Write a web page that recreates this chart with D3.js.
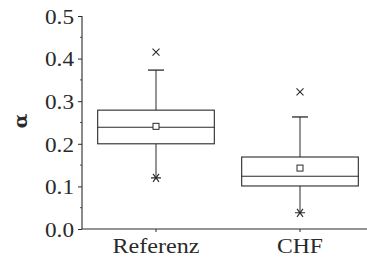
<!DOCTYPE html>
<html>
<head>
<meta charset="utf-8">
<script src="https://cdn.jsdelivr.net/npm/d3@7"></script>
<style>
  body { margin: 0; background: #fff; }
  svg { display: block; }
</style>
</head>
<body>
<svg id="chart" width="367" height="261"></svg>
<script>
// values
const groups = ["Referenz", "CHF"];
const q1 = [0.200, 0.101];
const medians = [0.239, 0.124];
const q3 = [0.279, 0.169];
const means = [0.241, 0.143];
const whiskerHigh = [0.373, 0.263];
const whiskerLow = [0.120, 0.038];
const outliers = [0.415, 0.322];
const yTicks = [0, 0.1, 0.2, 0.3, 0.4, 0.5];

const ink = "#2a2a2a";
const serif = "'Liberation Serif', 'DejaVu Serif', serif";
const svg = d3.select("#chart");

const y = d3.scaleLinear().domain([0, 0.5]).range([229, 16]);
const x = d3.scaleBand().domain(groups).range([84, 372]).padding(0);
const boxW = x.bandwidth() * 0.81;

// y axis
const yAxis = svg.append("g").attr("transform", "translate(82,0)")
    .call(d3.axisLeft(y).tickValues(yTicks).tickFormat(d3.format(".1f")).tickSize(4).tickPadding(4));
yAxis.select(".domain").attr("stroke", ink).attr("stroke-width", 1.1).attr("d", `M0,${y(0.5)}V${y(0)}`);
yAxis.selectAll(".tick line").attr("stroke", ink);
yAxis.selectAll(".tick text")
    .style("font-family", serif).style("font-size", "20px")
    .attr("fill", ink).attr("dy", "0.36em")
    .attr("textLength", 29).attr("lengthAdjust", "spacingAndGlyphs");

// minor ticks
svg.append("g").selectAll("line").data(d3.range(0.05, 0.5, 0.1)).join("line")
    .attr("x1", 80).attr("x2", 82)
    .attr("y1", d => y(d)).attr("y2", d => y(d))
    .attr("stroke", ink).attr("stroke-width", 0.8);

// x axis
svg.append("line").attr("x1", 82).attr("x2", 367).attr("y1", y(0)).attr("y2", y(0))
    .attr("stroke", ink).attr("stroke-width", 1.1);
svg.append("g").selectAll("line").data(groups).join("line")
    .attr("x1", d => x(d) + x.bandwidth() / 2).attr("x2", d => x(d) + x.bandwidth() / 2)
    .attr("y1", y(0)).attr("y2", y(0) + 3)
    .attr("stroke", ink);
svg.append("g").selectAll("text").data(groups).join("text")
    .attr("x", d => x(d) + x.bandwidth() / 2)
    .attr("y", 253)
    .attr("text-anchor", "middle")
    .style("font-family", serif).style("font-size", "21px")
    .attr("fill", ink)
    .attr("textLength", d => d == "Referenz" ? 87 : 46)
    .attr("lengthAdjust", "spacingAndGlyphs")
    .text(d => d);

// y label
svg.append("text")
    .attr("transform", "translate(27,121) rotate(-90)")
    .attr("text-anchor", "middle")
    .style("font-family", "'DejaVu Serif', serif").style("font-size", "19px")
    .attr("font-weight", "bold")
    .attr("fill", ink)
    .text("α");

// boxes
const boxes = svg.append("g").selectAll("g").data(groups).join("g")
    .attr("transform", d => `translate(${x(d) + x.bandwidth() / 2},0)`);

boxes.append("line")
    .attr("y1", (d, i) => y(q3[i])).attr("y2", (d, i) => y(whiskerHigh[i]))
    .attr("stroke", ink);
boxes.append("line")
    .attr("y1", (d, i) => y(q1[i])).attr("y2", (d, i) => y(whiskerLow[i]))
    .attr("stroke", ink);
boxes.append("line")
    .attr("x1", -8).attr("x2", 8)
    .attr("y1", (d, i) => y(whiskerHigh[i])).attr("y2", (d, i) => y(whiskerHigh[i]))
    .attr("stroke", ink).attr("stroke-width", 1.3);

boxes.append("rect")
    .attr("x", -boxW / 2).attr("width", boxW)
    .attr("y", (d, i) => y(q3[i]))
    .attr("height", (d, i) => y(q1[i]) - y(q3[i]))
    .attr("fill", "none").attr("stroke", ink).attr("stroke-width", 1.1);
boxes.append("line")
    .attr("x1", -boxW / 2).attr("x2", boxW / 2)
    .attr("y1", (d, i) => y(medians[i])).attr("y2", (d, i) => y(medians[i]))
    .attr("stroke", ink).attr("stroke-width", 1.1);
boxes.append("rect")
    .attr("x", -3).attr("width", 6).attr("height", 6)
    .attr("y", (d, i) => y(means[i]) - 3)
    .attr("fill", "#fff").attr("stroke", ink);

// outlier crosses
boxes.append("path")
    .attr("d", (d, i) => { const c = y(outliers[i]); return `M-3.5,${c - 3.5}L3.5,${c + 3.5}M-3.5,${c + 3.5}L3.5,${c - 3.5}`; })
    .attr("stroke", ink).attr("stroke-width", 1.1);

// asterisks at lower whisker end
boxes.append("path")
    .attr("d", (d, i) => { const c = y(whiskerLow[i]); return `M-5,${c}H5M-3,${c - 4}L3,${c + 4}M-3,${c + 4}L3,${c - 4}`; })
    .attr("stroke", ink).attr("stroke-width", 1.1);
</script>
</body>
</html>
